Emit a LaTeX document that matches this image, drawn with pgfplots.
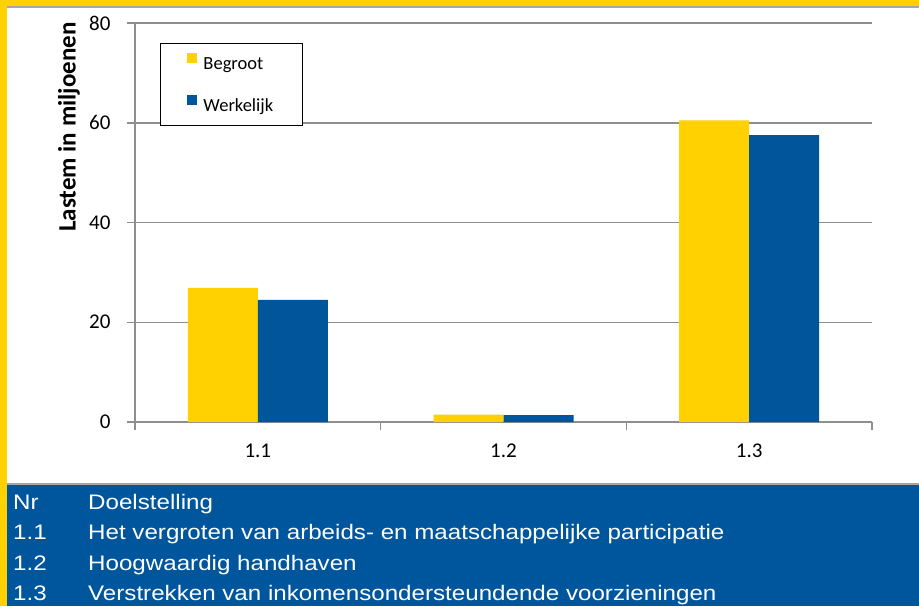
\documentclass[border=0pt]{standalone}
\usepackage{pgfplots}
\pgfplotsset{compat=1.18}
\usepackage{fontspec}
\setmainfont{Carlito}
\newfontfamily\arial[FakeStretch=1.15]{Liberation Sans}
\definecolor{geel}{HTML}{FFD100}
\definecolor{blauw}{HTML}{00559B}
\definecolor{band}{HTML}{00569C}
\definecolor{raster}{HTML}{8E8E8E}
\pgfplotsset{sqlegend/.style={legend image code/.code={\fill[##1,draw=none] (0pt,1pt) rectangle (10pt,11pt);}}}

\begin{document}
\begin{tikzpicture}
\useasboundingbox (0,0) rectangle (919pt,-606pt);
% frame
\fill[geel] (0,0) rectangle (919pt,-606pt);
\fill[white] (7pt,-7pt) rectangle (919pt,-484pt);
\draw[gray!70, line width=1.5pt] (7pt,-7pt) -- (919pt,-7pt);
\fill[band] (7pt,-484pt) rectangle (919pt,-606pt);
\draw[gray!70, line width=1.5pt] (7pt,-484pt) -- (919pt,-484pt);

\begin{axis}[
  at={(135pt,-422pt)}, anchor=south west,
  scale only axis, width=737pt, height=399pt,
  ybar=0pt, bar width=70pt,
  xmin=-0.5, xmax=2.5, ymin=0, ymax=80,
  xtick={-0.5,0.5,1.5,2.5}, xticklabels={},
  extra x ticks={0,1,2}, extra x tick labels={1.1,1.2,1.3},
  extra x tick style={major tick length=0pt, tick label style={yshift=-18pt}},
  ytick={0,20,40,60,80},
  yticklabel style={xshift=-13pt},
  axis lines*=left, tick align=outside, major tick length=8pt,
  axis line style={raster, line width=1.5pt},
  tick style={raster, line width=1.5pt},
  ymajorgrids, grid style={raster, line width=1.5pt},
  /pgf/number format/assume math mode=true,
  tick label style={font=\fontsize{21}{24}\selectfont},
  ylabel={Lastem in miljoenen},
  ylabel style={at={(axis description cs:-0.0896,0.739)}, anchor=center,
    font=\bfseries\fontsize{25}{28}\selectfont},
  legend cell align=left,
  legend style={at={(0.0339,0.9499)}, anchor=north west, draw=black,
    line width=1pt, inner xsep=27pt, inner ysep=10pt, row sep=22pt,
    /tikz/every odd column/.append style={column sep=4pt},
    nodes={inner sep=2pt}, font=\fontsize{18.5}{21}\selectfont},
]
\addplot[fill=geel, draw=none, sqlegend] coordinates {(0,26.9) (1,1.5) (2,60.5)};
\addplot[fill=blauw, draw=none, sqlegend] coordinates {(0,24.5) (1,1.4) (2,57.5)};
\legend{Begroot,Werkelijk}
\end{axis}

% table in the blue band
\begin{scope}[every node/.style={text=white, font=\arial\fontsize{21}{24}\selectfont, anchor=base west, inner sep=0pt}]
\node at (13pt,-509pt) {Nr};
\node at (88pt,-509pt) {Doelstelling};
\node at (13pt,-539.5pt) {1.1};
\node at (88pt,-539.5pt) {Het vergroten van arbeids- en maatschappelijke participatie};
\node at (13pt,-570pt) {1.2};
\node at (88pt,-570pt) {Hoogwaardig handhaven};
\node at (13pt,-600.5pt) {1.3};
\node at (88pt,-600.5pt) {Verstrekken van inkomensondersteundende voorzieningen};
\end{scope}
\end{tikzpicture}
\end{document}
